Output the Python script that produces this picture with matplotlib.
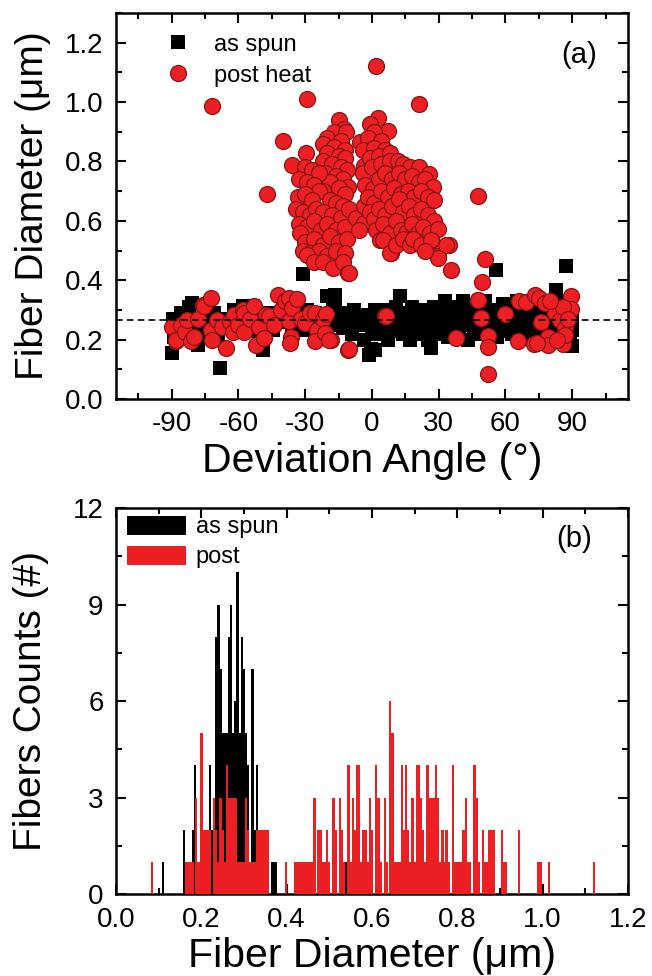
import matplotlib
matplotlib.use("Agg")
import matplotlib.pyplot as plt
from matplotlib.patches import Patch
from matplotlib.ticker import MultipleLocator

plt.rcParams['font.family'] = ['Liberation Sans', 'DejaVu Sans']

# ---------------- panel (a) data: deviation angle (deg) vs fiber diameter (um)
spun_angle = [
    -90, -89.5, -89, -88, -86, -84, -82, -81, -80, -78, -77, -75, -73, -71, -69, -68.5,
    -66, -64, -62, -60, -58, -56.8, -55, -53.5, -52, -50, -49, -47, -45, -44.5, -42, -40,
    -38, -36, -34, -32, -31, -31, -29, -27, -25.4, -23, -21,
    -20, -19, -17.5, -16.4, -16.4, -15, -13, -12, -10.4, -9, -8, -6, -4.4, -3.7, -2, -1.4,
    -0.4, 0, 1.3, 1.5, 2.5, 3.5, 5, 6, 7, 8, 9, 10, 11, 12.5, 13, 14, 15, 16, 17, 18, 19,
    20, 21, 22, 23, 24, 25, 26, 26.6, 27, 28, 29, 30, 31, 32, 33, 34, 35, 36, 37, 38, 39,
    40, 41, 42, 43, 44, 45, 46, 47, 48, 49, 50, 51, 52, 53, 54, 55, 55.9, 56, 57, 58, 59,
    60, 61, 62, 63, 64, 65, 66, 67, 68, 69, 70, 71, 72, 73, 74, 75, 76, 77, 78, 79, 80,
    81, 82, 82.8, 83, 84, 85, 86, 87, 87.3, 88, 89, 90, 90, 90, 90, 89,
]
spun_diam = [
    0.155, 0.27, 0.21, 0.245, 0.29, 0.23, 0.31, 0.323, 0.26, 0.182, 0.22, 0.28, 0.25, 0.29, 0.21, 0.104,
    0.27, 0.24, 0.30, 0.26, 0.312, 0.312, 0.23, 0.312, 0.27, 0.25, 0.166, 0.29, 0.24, 0.233, 0.28, 0.26,
    0.30, 0.24, 0.27, 0.25, 0.42, 0.233, 0.30, 0.26, 0.29, 0.25, 0.28,
    0.346, 0.25, 0.32, 0.351, 0.306, 0.27, 0.24, 0.29, 0.261, 0.22, 0.30, 0.25, 0.284, 0.20, 0.27, 0.149,
    0.17, 0.24, 0.166, 0.30, 0.22, 0.27, 0.25, 0.30, 0.20, 0.28, 0.23, 0.27, 0.31, 0.346, 0.25, 0.22, 0.29, 0.27, 0.20, 0.31, 0.24,
    0.28, 0.26, 0.22, 0.30, 0.25, 0.20, 0.29, 0.172, 0.24, 0.31, 0.27, 0.22, 0.30, 0.25, 0.33, 0.21, 0.28, 0.24, 0.31, 0.26, 0.22,
    0.29, 0.33, 0.25, 0.20, 0.28, 0.31, 0.24, 0.27, 0.22, 0.30, 0.25, 0.33, 0.28, 0.23, 0.26, 0.30, 0.433, 0.21, 0.28, 0.25, 0.32,
    0.23, 0.27, 0.30, 0.22, 0.26, 0.33, 0.25, 0.28, 0.22, 0.31, 0.26, 0.24, 0.30, 0.27, 0.22, 0.25, 0.29, 0.32, 0.24, 0.27, 0.21,
    0.30, 0.26, 0.368, 0.33, 0.24, 0.28, 0.22, 0.31, 0.447, 0.26, 0.19, 0.18, 0.233, 0.29, 0.25, 0.32,
]

heat_angle = [
    # low band, left
    -89.7, -88.2, -87.9, -86, -84, -83, -81.5, -80, -78, -76, -75.5, -72.2, -72.5, -71.8, -69.5, -67.3,
    -65.8, -64, -62, -62.4, -60, -58, -57.5, -57.3, -55, -53, -52.3, -50.8, -48.6, -47.5, -46.3, -44,
    -42.1, -41.1, -39, -37.4, -37.4, -36.6, -37, -35.8, -33.6, -32, -29.9, -28, -25.7, -24.6, -25.4, -22,
    -20.9, -18.6, -20.5, -19.1, -10.7, -10.1, 5.8, 6.4,
    # low band, right
    37.9, 47.7, 47.5, 49.2, 49, 52.2, 52.2, 52.2, 59.6, 65.6, 66.2, 69.4, 72.7, 73.1, 75, 77.6,
    76.1, 79.1, 79.1, 82.1, 84.3, 85.8, 86.6, 86.6, 89.3, 89.3, 86, 88, 80, 83, 74,
    # isolated points
    -71.9, -29.3, -40, -35.8, -29.5, -47.3, 1.9, 21.1, 47.5, 50.8, 49.3, 29.6, 35.7, 34.5, 33.3, 29.6,
    # cluster A
    -15, -12.5, -17, -11.6, -20, -14, -22, -17, -12.3, -20, -15, -12, -22, -18, -14, -11, -21, -16,
    -13, -19, -10.9, -15, -22, -12,
    -30, -27, -24, -33, -29, -26, -24, -33.3, -30, -27, -19, -16, -13, -34, -31, -28, -25, -22, -18,
    -14, -10.1, -33, -29, -26, -23, -20, -16, -12, -32.5, -30, -26, -22, -19, -15, -11, -31, -28, -24,
    -20, -16, -12, -29, -26, -22, -17.7, -13, -10.9, -10.4,
    -7.1, -3.4, -3.4, -6,
    # cluster B
    2.6, -1.1, 7.1, 1, -5.6, -2, 4, -4, 1, 6, -3.4, -1, 3, 8,
    -4, 0, 4, 8, 11.6, 14, 17, 21.3, 25.8, -3, 0.4, 3, 6, 9, 12, 15, 18, 21, 24, 27.3,
    -2, 1, 4, 7, 10, 13, 16, 19, 22, 25, 28, -1, 1.1, 3, 6, 9, 12, 14, 16.8, 19, 22, 25, 28,
    2, 5, 8, 11, 13, 15.4, 18, 20.6, 23, 26, 29.6, 3.4, 4.9, 8.6, 7.9, 11, 14, 17, 18.5, 22,
    26.6, 26.6, 24,
]
heat_diam = [
    0.244, 0.194, 0.20, 0.25, 0.227, 0.267, 0.194, 0.21, 0.27, 0.318, 0.312, 0.34, 0.233, 0.20, 0.267, 0.244,
    0.171, 0.26, 0.284, 0.227, 0.25, 0.30, 0.289, 0.227, 0.27, 0.312, 0.182, 0.244, 0.205, 0.284, 0.278, 0.25,
    0.351, 0.301, 0.33, 0.34, 0.261, 0.21, 0.188, 0.306, 0.337, 0.27, 0.256, 0.29, 0.29, 0.233, 0.194, 0.27,
    0.222, 0.20, 0.285, 0.20, 0.166, 0.168, 0.278, 0.278,
    0.205, 0.334, 0.334, 0.272, 0.273, 0.213, 0.175, 0.083, 0.287, 0.194, 0.329, 0.325, 0.186, 0.351, 0.34, 0.323,
    0.258, 0.208, 0.182, 0.29, 0.267, 0.186, 0.239, 0.216, 0.346, 0.303, 0.31, 0.27, 0.33, 0.20, 0.19,
    0.988, 1.01, 0.869, 0.788, 0.828, 0.692, 1.123, 0.993, 0.683, 0.47, 0.393, 0.481, 0.433, 0.517, 0.52, 0.476,
    0.94, 0.91, 0.90, 0.898, 0.88, 0.87, 0.86, 0.85, 0.84, 0.83, 0.82, 0.81, 0.80, 0.79, 0.78, 0.77, 0.76, 0.75,
    0.74, 0.73, 0.713, 0.71, 0.70, 0.69,
    0.78, 0.77, 0.76, 0.74, 0.73, 0.72, 0.70, 0.68, 0.69, 0.67, 0.67, 0.66, 0.65, 0.64, 0.63, 0.62, 0.64, 0.63, 0.62,
    0.61, 0.64, 0.59, 0.58, 0.60, 0.57, 0.59, 0.57, 0.58, 0.56, 0.53, 0.54, 0.52, 0.55, 0.53, 0.54, 0.50, 0.49, 0.50,
    0.48, 0.50, 0.49, 0.486, 0.463, 0.46, 0.442, 0.46, 0.425, 0.425,
    0.61, 0.65, 0.594, 0.57,
    0.945, 0.926, 0.903, 0.90, 0.865, 0.88, 0.87, 0.84, 0.845, 0.84, 0.785, 0.81, 0.82, 0.83,
    0.76, 0.78, 0.79, 0.80, 0.80, 0.79, 0.78, 0.78, 0.757, 0.72, 0.706, 0.74, 0.76, 0.74, 0.76, 0.74, 0.75, 0.73, 0.74, 0.713,
    0.68, 0.66, 0.70, 0.68, 0.71, 0.69, 0.70, 0.68, 0.70, 0.68, 0.67, 0.63, 0.605, 0.64, 0.62, 0.65, 0.672, 0.63, 0.65, 0.62, 0.64, 0.62, 0.60,
    0.57, 0.59, 0.56, 0.60, 0.57, 0.56, 0.59, 0.56, 0.58, 0.56, 0.571, 0.537, 0.537, 0.493, 0.493, 0.52, 0.54, 0.52, 0.54, 0.52,
    0.531, 0.537, 0.50,
]
mean_line = 0.265

# ---------------- panel (b) data: histogram bins (um) and counts
spun_bins = [0.110, 0.160, 0.180, 0.185, 0.195, 0.200, 0.220, 0.225, 0.235, 0.240, 0.245, 0.250,
             0.255, 0.260, 0.265, 0.270, 0.275, 0.280, 0.285, 0.290, 0.295, 0.300, 0.305, 0.310,
             0.315, 0.320, 0.325, 0.330, 0.335, 0.340, 0.345, 0.350, 0.365, 0.370, 0.375, 0.425,
             0.440, 0.450, 0.540]
spun_counts = [1, 2, 2, 4, 1, 1, 4, 2, 8, 9, 7, 5,
               5, 5, 8, 9, 5, 6, 10, 5, 8, 7, 5, 4,
               1, 7, 2, 4, 2, 2, 2, 2, 1, 1, 1, 1,
               1, 1, 1]

post_bins = [0.085, 0.165, 0.170, 0.175, 0.180, 0.188, 0.193, 0.200, 0.205, 0.210, 0.215, 0.220,
             0.230, 0.235, 0.240, 0.245, 0.250, 0.255, 0.260, 0.265, 0.270, 0.275, 0.280, 0.285,
             0.290, 0.295, 0.300, 0.305, 0.310, 0.315, 0.320, 0.325, 0.330, 0.335, 0.340, 0.345,
             0.350, 0.355, 0.398, 0.420, 0.425, 0.430, 0.435, 0.440, 0.445, 0.450, 0.455, 0.460,
             0.465, 0.475, 0.480, 0.485, 0.490, 0.495, 0.500, 0.510, 0.515, 0.525, 0.530, 0.535,
             0.545, 0.550, 0.555, 0.560, 0.565, 0.570, 0.575, 0.580, 0.585, 0.590, 0.595, 0.600,
             0.610, 0.615, 0.620, 0.630, 0.635, 0.642, 0.648, 0.655, 0.660, 0.665, 0.670, 0.675,
             0.680, 0.685, 0.690, 0.695, 0.700, 0.705, 0.710, 0.715, 0.720, 0.725, 0.730, 0.735,
             0.740, 0.745, 0.750, 0.755, 0.760, 0.765, 0.770, 0.775, 0.780, 0.790, 0.795, 0.800,
             0.805, 0.810, 0.815, 0.820, 0.825, 0.830, 0.840, 0.845, 0.850, 0.860, 0.865, 0.870,
             0.875, 0.880, 0.885, 0.905, 0.910, 0.915, 0.945, 0.990, 0.995, 1.015, 1.120]
post_counts = [1, 1, 1, 1, 1, 3, 1, 5, 2, 2, 2, 2,
               3, 2, 1, 3, 2, 1, 4, 3, 3, 3, 3, 1,
               1, 1, 1, 3, 2, 1, 1, 1, 2, 2, 2, 2,
               2, 2, 1, 1, 1, 1, 1, 1, 1, 1, 1, 1,
               3, 2, 2, 1, 1, 2, 1, 3, 2, 3, 2, 1,
               4, 1, 3, 2, 4, 4, 1, 2, 2, 1, 3, 2,
               4, 3, 1, 3, 1, 6, 5, 1, 1, 1, 4, 2,
               4, 2, 1, 3, 1, 4, 4, 3, 2, 1, 4, 3,
               3, 3, 4, 3, 1, 2, 1, 2, 1, 4, 1, 1,
               1, 1, 2, 3, 1, 1, 4, 3, 1, 2, 1, 1,
               2, 2, 2, 2, 1, 1, 2, 1, 1, 1, 1]

RED = '#EC1F24'
EDGE = '#8A1414'

fig = plt.figure(figsize=(6.52, 9.76), dpi=100)
ax1 = fig.add_axes([0.178, 0.5912, 0.785, 0.3955])
ax2 = fig.add_axes([0.178, 0.084, 0.785, 0.3955])

TICK_FS = 20
YLABEL_FS = 28
XLABEL_FS = 29.5

def style(ax):
    for s in ax.spines.values():
        s.set_linewidth(1.8)
    ax.tick_params(which='both', direction='in', top=True, right=True, width=1.5)
    ax.tick_params(which='major', length=7, labelsize=TICK_FS, pad=9)
    ax.tick_params(which='minor', length=4)

# ---- panel (a)
ax1.plot(spun_angle, spun_diam, linestyle='none', marker='s', markersize=10,
         color='black', markeredgewidth=0, label='as spun', zorder=2)
ax1.plot(heat_angle, heat_diam, linestyle='none', marker='o', markersize=11.5,
         markerfacecolor=RED, markeredgecolor=EDGE, markeredgewidth=0.9,
         label='post heat', zorder=3)
ax1.axhline(mean_line, color='black', linestyle=(0, (4, 2.5)), linewidth=1.2, zorder=4)
ax1.set_xlim(-115, 115)
ax1.set_ylim(0, 1.3)
ax1.xaxis.set_minor_locator(MultipleLocator(15))
ax1.yaxis.set_minor_locator(MultipleLocator(0.1))
ax1.set_yticks([0, 0.2, 0.4, 0.6, 0.8, 1.0, 1.2])
ax1.set_yticklabels(['0.0', '0.2', '0.4', '0.6', '0.8', '1.0', '1.2'])
ax1.set_xticks([-90, -60, -30, 0, 30, 60, 90])
ax1.set_xticklabels(['-90', '-60', '-30', '0', '30', '60', '90'])
style(ax1)
ax1.set_xlabel('Deviation Angle (°)', fontsize=XLABEL_FS, labelpad=3)
ax1.set_ylabel('Fiber Diameter (μm)', fontsize=YLABEL_FS, labelpad=10)
ax1.text(0.905, 0.89, '(a)', transform=ax1.transAxes, fontsize=21, ha='center', va='center')
ax1.legend(loc='upper left', bbox_to_anchor=(0.08, 0.971), frameon=False,
           fontsize=17, handlelength=1.0, handletextpad=1.0, labelspacing=0.38,
           borderaxespad=0)

# ---- panel (b)
ax2.bar(spun_bins, spun_counts, width=0.0055, color='black', linewidth=0, label='as spun', zorder=2)
ax2.bar(post_bins, post_counts, width=0.0055, color=RED, linewidth=0, label='post', zorder=3)
ax2.set_xlim(0, 1.2)
ax2.set_ylim(0, 12)
ax2.set_xticks([0.0, 0.2, 0.4, 0.6, 0.8, 1.0, 1.2])
ax2.set_xticklabels(['0.0', '0.2', '0.4', '0.6', '0.8', '1.0', '1.2'])
ax2.xaxis.set_minor_locator(MultipleLocator(0.1))
ax2.set_yticks([0, 3, 6, 9, 12])
ax2.yaxis.set_minor_locator(MultipleLocator(1.5))
style(ax2)
ax2.set_xlabel('Fiber Diameter (μm)', fontsize=XLABEL_FS, labelpad=3)
ax2.set_ylabel('Fibers Counts (#)', fontsize=YLABEL_FS, labelpad=17)
ax2.text(0.895, 0.92, '(b)', transform=ax2.transAxes, fontsize=21, ha='center', va='center')
handles = [Patch(facecolor='black', edgecolor='none', label='as spun'),
           Patch(facecolor=RED, edgecolor='none', label='post')]
ax2.legend(handles=handles, loc='upper left', bbox_to_anchor=(0.003, 1.005), frameon=False,
           fontsize=17, handlelength=2.5, handleheight=0.9, handletextpad=0.4,
           labelspacing=0.3, borderaxespad=0)

fig.savefig('out.png', dpi=100)
